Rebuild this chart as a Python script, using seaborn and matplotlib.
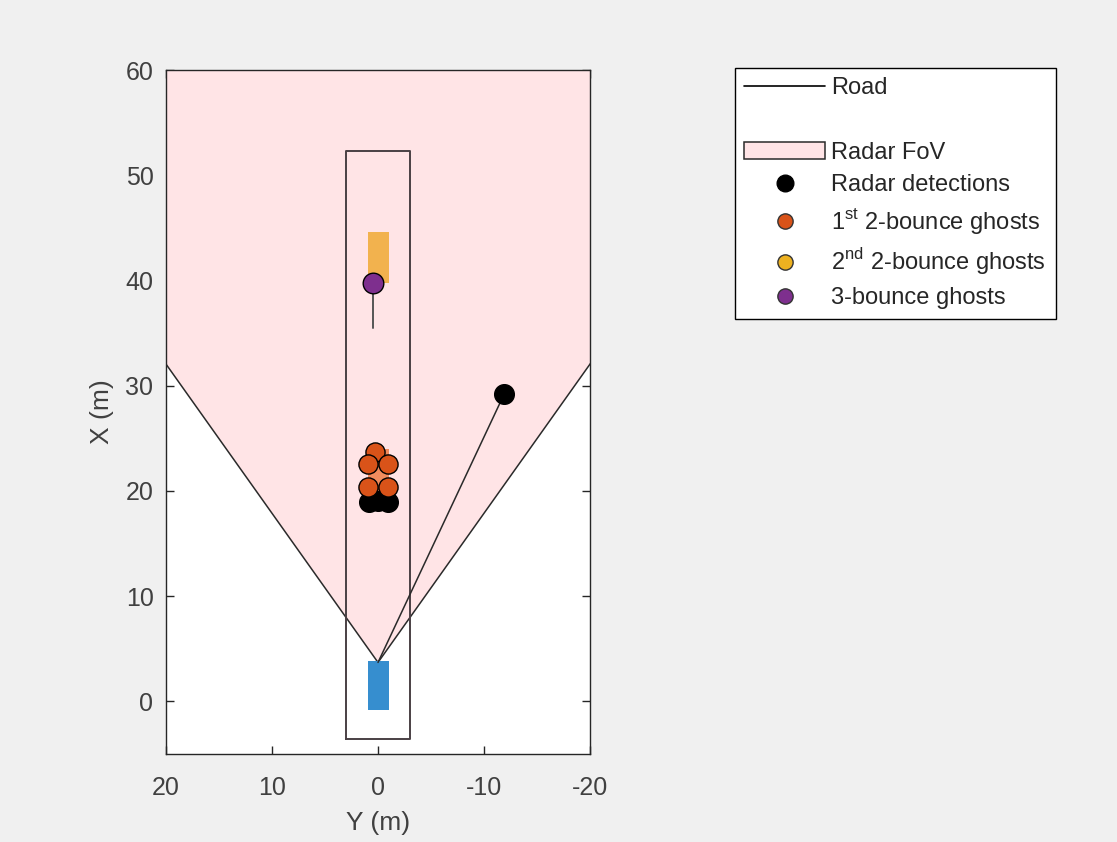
import numpy as np
import pandas as pd
import matplotlib
matplotlib.use("Agg")
import matplotlib.pyplot as plt
from matplotlib.patches import Polygon, Rectangle, Patch
from matplotlib.lines import Line2D
import seaborn as sns

# ---- data (Y = lateral, X = longitudinal) ----
det_y = [0.85, 0.0, -0.9, -11.9]
det_x = [18.9, 19.0, 18.9, 29.2]
ghost1_y = [0.28, 0.95, -0.95, 0.95, -0.95]
ghost1_x = [23.7, 22.6, 22.6, 20.4, 20.4]
ghost3_y = [0.45]
ghost3_x = [39.8]
vel_y = [0.45, 0.45]
vel_x = [39.8, 35.5]
ray_y = [0.0, -11.9]
ray_x = [3.7, 29.2]
road_y = [3.0, -3.0, -3.0, 3.0, 3.0]
road_x = [-3.6, -3.6, 52.3, 52.3, -3.6]
fov_apex = (0.0, 3.7)
fov_half_angle = 35.2
fov_range = 120.0
ego_car = dict(y0=-1.0, x0=-0.85, w=1.9, l=4.7)
target_car = dict(y0=-1.0, x0=39.8, w=1.9, l=4.8)
ghost_car = dict(y0=-1.0, x0=19.3, w=1.9, l=4.7)
xticks = [20, 10, 0, -10, -20]
yticks = [0, 10, 20, 30, 40, 50, 60]

sns.set_style("white")
plt.rcParams['font.family'] = ['Liberation Sans', 'DejaVu Sans']
plt.rcParams['mathtext.fontset'] = 'custom'
plt.rcParams['mathtext.rm'] = 'Liberation Sans'

fig = plt.figure(figsize=(11.17, 8.42), dpi=100, facecolor='#f0f0f0')
ax = fig.add_axes([166/1117, 1-754/842, (590-166)/1117, (754-70)/842])
ax.set_facecolor('white')

# FoV polygon
a = np.deg2rad(fov_half_angle)
ay, ax0 = fov_apex
pts = [(ay, ax0),
       (ay + fov_range*np.sin(a), ax0 + fov_range*np.cos(a)),
       (ay + fov_range*np.sin(a), 200),
       (ay - fov_range*np.sin(a), 200),
       (ay - fov_range*np.sin(a), ax0 + fov_range*np.cos(a))]
fov = Polygon(pts, closed=True, facecolor='#ffe4e6', edgecolor='#2a2a2a', lw=1.1, zorder=1)
ax.add_patch(fov)

# road
ax.plot(road_y, road_x, color='#4a4044', lw=1.4, zorder=2)

# cars
ax.add_patch(Rectangle((ego_car['y0'], ego_car['x0']), ego_car['w'], ego_car['l'],
                       facecolor='#368ecf', edgecolor='none', zorder=3))
ax.add_patch(Rectangle((target_car['y0'], target_car['x0']), target_car['w'], target_car['l'],
                       facecolor='#f2b24e', edgecolor='none', zorder=3))
ax.add_patch(Rectangle((ghost_car['y0'], ghost_car['x0']), ghost_car['w'], ghost_car['l'],
                       facecolor='#f08c5e', edgecolor='none', zorder=3))

# rays and velocity
ax.plot(ray_y, ray_x, color='#2a2a2a', lw=1.1, zorder=4)
ax.plot(vel_y, vel_x, color='#555555', lw=1.4, zorder=4)

# points
df_det = pd.DataFrame({'Y': det_y, 'X': det_x})
df_g1 = pd.DataFrame({'Y': ghost1_y, 'X': ghost1_x})
df_g3 = pd.DataFrame({'Y': ghost3_y, 'X': ghost3_x})
sns.scatterplot(data=df_det, x='Y', y='X', ax=ax, color='black', edgecolor='black',
                s=200, linewidth=1, zorder=5)
sns.scatterplot(data=df_g1, x='Y', y='X', ax=ax, color='#d95319', edgecolor='black',
                s=190, linewidth=1, zorder=6)
sns.scatterplot(data=df_g3, x='Y', y='X', ax=ax, color='#7e2f8e', edgecolor='black',
                s=220, linewidth=1, zorder=6)

ax.set_xlim(20, -20)
ax.set_ylim(-5, 60)
ax.set_xticks(xticks)
ax.set_yticks(yticks)
ax.set_xticklabels([str(t) for t in xticks])
ax.tick_params(direction='in', length=6, width=1, colors='#262626', labelcolor='#404040',
               labelsize=18, top=True, right=True, bottom=True, left=True)
ax.tick_params(axis='x', pad=16)
ax.tick_params(axis='y', pad=9)
for s in ax.spines.values():
    s.set_color('#262626')
    s.set_linewidth(1)
    s.set_visible(True)
ax.set_xlabel('Y (m)', fontsize=19, color='#404040', labelpad=8)
ax.set_ylabel('X (m)', fontsize=19, color='#404040', labelpad=8)

# legend
handles = [
    Line2D([], [], color='black', lw=1.2),
    Line2D([], [], color='none', lw=0),
    Patch(facecolor='#ffe4e6', edgecolor='#2a2a2a', lw=1.1),
    Line2D([], [], ls='none', marker='o', markersize=12, markerfacecolor='black', markeredgecolor='black'),
    Line2D([], [], ls='none', marker='o', markersize=11, markerfacecolor='#d95319', markeredgecolor='#333333'),
    Line2D([], [], ls='none', marker='o', markersize=11, markerfacecolor='#edb120', markeredgecolor='#333333'),
    Line2D([], [], ls='none', marker='o', markersize=11, markerfacecolor='#7e2f8e', markeredgecolor='#333333'),
]
labels = ['Road', ' ', 'Radar FoV', 'Radar detections',
          r'1$^{\mathrm{st}}$ 2-bounce ghosts', r'2$^{\mathrm{nd}}$ 2-bounce ghosts',
          '3-bounce ghosts']
leg = fig.legend(handles, labels, loc='upper left', bbox_to_anchor=(735/1117, 1-68/842),
                 bbox_transform=fig.transFigure, fontsize=17, frameon=True, fancybox=False,
                 edgecolor='black', facecolor='white', framealpha=1, handlelength=3.4,
                 handletextpad=0.28, borderpad=0.4, labelspacing=0.43, borderaxespad=0)
leg.get_frame().set_linewidth(1)
for t in leg.get_texts():
    t.set_color('#262626')

fig.savefig('out.png', dpi=100, facecolor=fig.get_facecolor())
